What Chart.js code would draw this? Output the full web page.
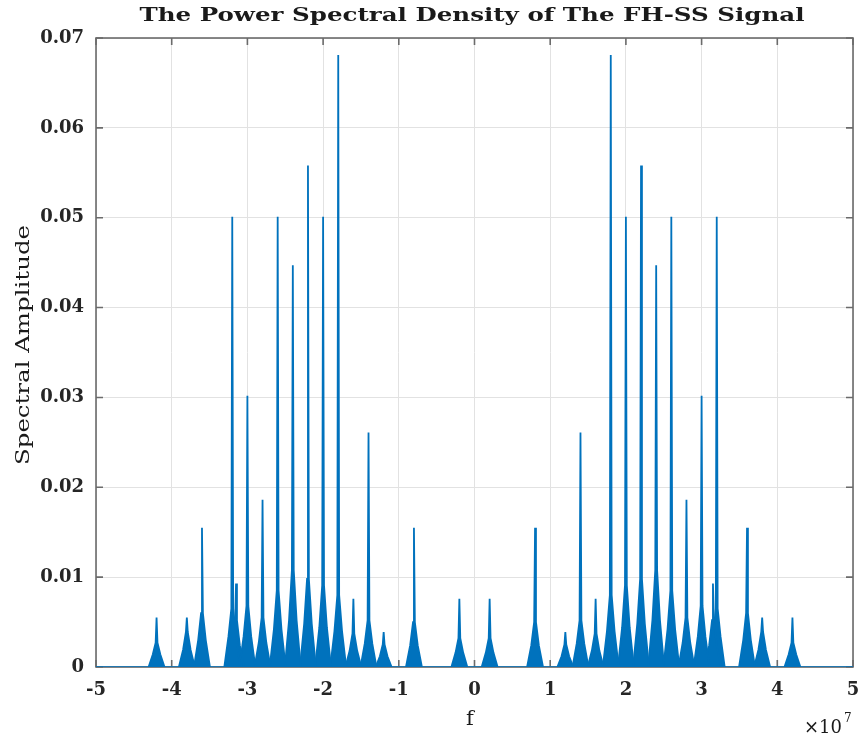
<!DOCTYPE html>
<html>
<head>
<meta charset="utf-8">
<script src="https://cdn.jsdelivr.net/npm/chart.js@4/dist/chart.umd.min.js"></script>
<style>
html,body{margin:0;padding:0;background:#fff;}
canvas{display:block;}
</style>
</head>
<body>
<canvas id="psd" width="861" height="738"></canvas>
<script>
// hop frequencies (Hz) of the FH-SS carriers and the levels
var hopFreqs = [-42e6,-38e6,-36e6,-32e6,-31.5e6,-30e6,-28e6,-26e6,-24e6,-22e6,-20e6,-18e6,-16e6,-14e6,-12e6,-8e6,-2e6,
                 2e6,8e6,12e6,14e6,16e6,18e6,20e6,22e6,24e6,26e6,28e6,30e6,31.5e6,32e6,36e6,38e6,42e6];
var spikeAmps = [0.0055,0.0055,0.0155,0.0501,0.0093,0.0302,0.0186,0.0501,0.0447,0.0558,0.0501,0.0681,0.0076,0.0261,0.0039,0.0155,0.0076,
                 0.0076,0.0155,0.0039,0.0261,0.0076,0.0681,0.0501,0.0558,0.0447,0.0501,0.0186,0.0302,0.0093,0.0501,0.0155,0.0055,0.0055];
var shoulderAmps = [0.0027,0.0039,0.0060,0.0065,0.0052,0.0068,0.0055,0.0085,0.0108,0.0098,0.0091,0.0080,0.0037,0.0052,0.0025,0.0050,0.0032,
                    0.0032,0.0050,0.0025,0.0052,0.0037,0.0080,0.0091,0.0098,0.0108,0.0085,0.0055,0.0068,0.0052,0.0065,0.0060,0.0039,0.0027];
var skirtAmps = [0.0014,0.0019,0.0030,0.0034,0.0024,0.0034,0.0027,0.0042,0.0052,0.0048,0.0044,0.0040,0.0018,0.0026,0.0012,0.0024,0.0016,
                 0.0016,0.0024,0.0012,0.0026,0.0018,0.0040,0.0044,0.0048,0.0052,0.0042,0.0027,0.0034,0.0024,0.0034,0.0030,0.0019,0.0014];
// offsets (Hz) of the points that outline each hop lobe
var lobeOffsets = [-1.05e6,-0.5e6,-0.12e6,0,0.12e6,0.5e6,1.05e6];
var xTicks = [-5,-4,-3,-2,-1,0,1,2,3,4,5];
var yTicks = [0,0.01,0.02,0.03,0.04,0.05,0.06,0.07];

var blue = '#0072BD';
var datasets = [{
  data: [{x:-5e7,y:0},{x:5e7,y:0}],
  borderColor: blue, borderWidth: 1.4, pointRadius: 0, fill: false
}];
hopFreqs.forEach(function(f, i){
  var lv = [0, skirtAmps[i], shoulderAmps[i], spikeAmps[i], shoulderAmps[i], skirtAmps[i], 0];
  datasets.push({
    data: lobeOffsets.map(function(o, k){ return {x: f + o, y: lv[k]}; }),
    borderColor: blue, backgroundColor: blue, borderWidth: 1.8,
    pointRadius: 0, fill: 'origin', tension: 0
  });
});

// fit a text to a given length by stretching it along its direction
function fitText(ctx, txt, x, y, len, rot){
  ctx.save();
  ctx.translate(x, y);
  if(rot) ctx.rotate(rot);
  var w = ctx.measureText(txt).width;
  ctx.scale(len / w, 1);
  ctx.textAlign = 'center';
  ctx.fillText(txt, 0, 0);
  ctx.restore();
}

var framePlugin = {
  id: 'frame',
  beforeDatasetsDraw: function(chart){
    var ctx = chart.ctx, a = chart.chartArea, sx = chart.scales.x, sy = chart.scales.y;
    ctx.save();
    ctx.strokeStyle = '#6b6b6b';
    ctx.lineWidth = 1.6;
    ctx.strokeRect(a.left, a.top, a.right - a.left, a.bottom - a.top);
    ctx.beginPath();
    xTicks.forEach(function(t){
      var px = sx.getPixelForValue(t * 1e7);
      ctx.moveTo(px, a.bottom); ctx.lineTo(px, a.bottom - 7);
      ctx.moveTo(px, a.top); ctx.lineTo(px, a.top + 7);
    });
    yTicks.forEach(function(t){
      var py = sy.getPixelForValue(t);
      ctx.moveTo(a.left, py); ctx.lineTo(a.left + 7, py);
      ctx.moveTo(a.right, py); ctx.lineTo(a.right - 7, py);
    });
    ctx.stroke();
    ctx.restore();
  },
  afterDraw: function(chart){
    var ctx = chart.ctx;
    ctx.save();
    ctx.fillStyle = '#1a1a1a';
    ctx.textBaseline = 'alphabetic';
    ctx.font = 'bold 18px "DejaVu Serif"';
    fitText(ctx, 'The Power Spectral Density of The FH-SS Signal', 472, 21, 665, 0);
    ctx.font = '19px "DejaVu Serif"';
    fitText(ctx, 'Spectral Amplitude', 29, 345, 240, -Math.PI / 2);
    ctx.font = '21px "DejaVu Serif"';
    ctx.textAlign = 'center';
    ctx.fillText('f', 470, 725);
    ctx.font = '18px "DejaVu Serif"';
    ctx.textAlign = 'right';
    ctx.fillText('\u00d710', 842, 733);
    ctx.font = '12px "DejaVu Serif"';
    ctx.textAlign = 'left';
    ctx.fillText('7', 844, 722);
    ctx.restore();
  }
};

var tickFont = {family: 'DejaVu Serif', weight: 'bold', size: 18};
new Chart(document.getElementById('psd'), {
  type: 'line',
  data: { datasets: datasets },
  plugins: [framePlugin],
  options: {
    responsive: false,
    animation: false,
    layout: { padding: { top: 38, right: 8, left: 0, bottom: 0 } },
    plugins: { legend: { display: false }, tooltip: { enabled: false } },
    scales: {
      x: {
        type: 'linear', min: -5e7, max: 5e7,
        afterBuildTicks: function(s){ s.ticks = xTicks.map(function(t){ return {value: t * 1e7}; }); },
        ticks: { callback: function(v){ return String(Math.round(v / 1e7)); }, font: tickFont, color: '#262626', padding: 13, maxRotation: 0 },
        grid: { color: '#e2e2e2', drawTicks: false },
        border: { display: false },
        afterFit: function(s){ s.height = 71; s.paddingLeft = 0; s.paddingRight = 0; }
      },
      y: {
        min: 0, max: 0.07,
        afterBuildTicks: function(s){ s.ticks = yTicks.map(function(t){ return {value: t}; }); },
        ticks: { callback: function(v){ return v === 0 ? '0' : v.toFixed(2); }, font: tickFont, color: '#262626', padding: 12 },
        grid: { color: '#e2e2e2', drawTicks: false },
        border: { display: false },
        afterFit: function(s){ s.width = 96; s.paddingTop = 0; s.paddingBottom = 0; }
      }
    }
  }
});
</script>
</body>
</html>
